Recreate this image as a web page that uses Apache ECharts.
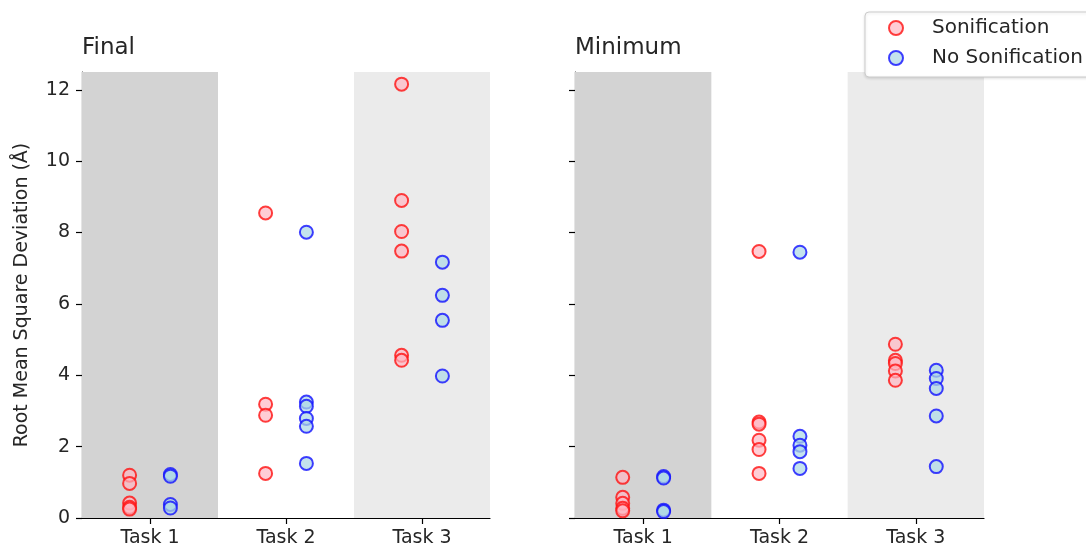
<!DOCTYPE html>
<html>
<head>
<meta charset="utf-8">
<script src="https://cdn.jsdelivr.net/npm/echarts@6/dist/echarts.min.js"></script>
<style>
  html, body { margin: 0; padding: 0; background: #fff; }
  #chart { width: 1086px; height: 550px; }
</style>
</head>
<body>
<div id="chart"></div>
<script>
// Task names shown on the x axis
const tasks = ['Task 1', 'Task 2', 'Task 3'];
const yTicks = [0, 2, 4, 6, 8, 10, 12];

// RMSD (Å) per participant, Final panel
const finalSonification = [
  [1.20, 0.97, 0.42, 0.30, 0.25],
  [8.55, 3.19, 2.88, 1.25],
  [12.16, 8.90, 8.03, 7.48, 4.56, 4.42]
];
const finalNoSonification = [
  [1.22, 1.17, 0.38, 0.28],
  [8.01, 3.25, 3.13, 2.79, 2.57, 1.53],
  [7.17, 6.24, 5.54, 3.98]
];

// RMSD (Å) per participant, Minimum panel
const minSonification = [
  [1.14, 0.58, 0.41, 0.27, 0.20],
  [7.47, 2.69, 2.63, 2.18, 1.92, 1.25],
  [4.87, 4.42, 4.33, 4.12, 3.86]
];
const minNoSonification = [
  [1.16, 1.12, 0.22, 0.18],
  [7.45, 2.29, 2.04, 1.86, 1.39],
  [4.14, 3.91, 3.63, 2.86, 1.44]
];

const OFFSET = 0.15;
function toPoints(groups, shift) {
  const pts = [];
  groups.forEach((vals, i) => vals.forEach(v => pts.push([i + 1 + shift, v])));
  return pts;
}

const FONT = 'DejaVu Sans';
const TEXT = '#262626';

const sonStyle = { color: 'rgba(255,182,193,0.85)', borderColor: '#ff1010', borderWidth: 2 };
const noSonStyle = { color: 'rgba(173,216,230,0.9)', borderColor: '#1010ff', borderWidth: 2 };

const grids = [
  { left: 82, top: 72, width: 408, height: 446 },
  { left: 575, top: 72, width: 409, height: 446 }
];

function xAxis(idx) {
  return {
    type: 'value', gridIndex: idx, min: 0.5, max: 3.5,
    splitLine: { show: false },
    axisLine: { lineStyle: { color: '#000', width: 1.2 } },
    axisTick: { customValues: [1, 2, 3], length: 6, lineStyle: { color: '#000', width: 1.2 } },
    axisLabel: {
      customValues: [1, 2, 3], formatter: v => tasks[Math.round(v) - 1],
      color: TEXT, fontFamily: FONT, fontSize: 19, margin: 11
    }
  };
}
function yAxis(idx, labels) {
  return {
    type: 'value', gridIndex: idx, min: 0, max: 12.5,
    name: labels ? 'Root Mean Square Deviation (Å)' : '',
    nameLocation: 'middle', nameGap: 50,
    nameTextStyle: { color: TEXT, fontFamily: FONT, fontSize: 19 },
    splitLine: { show: false },
    axisLine: { show: true, onZero: false, lineStyle: { color: '#000', width: 1.2 } },
    axisTick: { show: true, customValues: yTicks, length: 6, lineStyle: { color: '#000', width: 1.2 } },
    axisLabel: {
      show: labels, customValues: yTicks,
      color: TEXT, fontFamily: FONT, fontSize: 19, margin: 12
    }
  };
}

// Shaded task bands drawn behind the points
function bandSeries(idx) {
  return {
    type: 'scatter', xAxisIndex: idx, yAxisIndex: idx, data: [], z: 0, silent: true,
    markArea: {
      silent: true,
      data: [
        [{ xAxis: 0.5, itemStyle: { color: '#d3d3d3' } }, { xAxis: 1.5 }],
        [{ xAxis: 2.5, itemStyle: { color: '#ebebeb' } }, { xAxis: 3.5 }]
      ]
    }
  };
}

function pointSeries(name, idx, groups, shift, style) {
  return {
    name, type: 'scatter', xAxisIndex: idx, yAxisIndex: idx,
    symbol: 'circle', symbolSize: 13, z: 3,
    itemStyle: style,
    data: toPoints(groups, shift)
  };
}

const titleStyle = { color: TEXT, fontFamily: FONT, fontSize: 23, fontWeight: 'normal' };

const option = {
  animation: false,
  title: [
    { text: 'Final', left: 77, top: 32, textStyle: titleStyle },
    { text: 'Minimum', left: 570, top: 32, textStyle: titleStyle }
  ],
  legend: {
    orient: 'vertical', left: 865, top: 12,
    padding: [6, 14, 9, 23],
    itemGap: 10, itemWidth: 14, itemHeight: 14,
    borderColor: '#cccccc', borderWidth: 1, borderRadius: 4,
    backgroundColor: '#fff',
    shadowColor: 'rgba(0,0,0,0.12)', shadowBlur: 3, shadowOffsetY: 1,
    textStyle: { color: TEXT, fontFamily: FONT, fontSize: 20, padding: [0, 0, 0, 24] },
    data: ['Sonification', 'No Sonification']
  },
  grid: grids,
  xAxis: [xAxis(0), xAxis(1)],
  yAxis: [yAxis(0, true), yAxis(1, false)],
  series: [
    bandSeries(0),
    bandSeries(1),
    pointSeries('Sonification', 0, finalSonification, -OFFSET, sonStyle),
    pointSeries('No Sonification', 0, finalNoSonification, OFFSET, noSonStyle),
    pointSeries('Sonification', 1, minSonification, -OFFSET, sonStyle),
    pointSeries('No Sonification', 1, minNoSonification, OFFSET, noSonStyle)
  ]
};

echarts.init(document.getElementById('chart')).setOption(option);
</script>
</body>
</html>
